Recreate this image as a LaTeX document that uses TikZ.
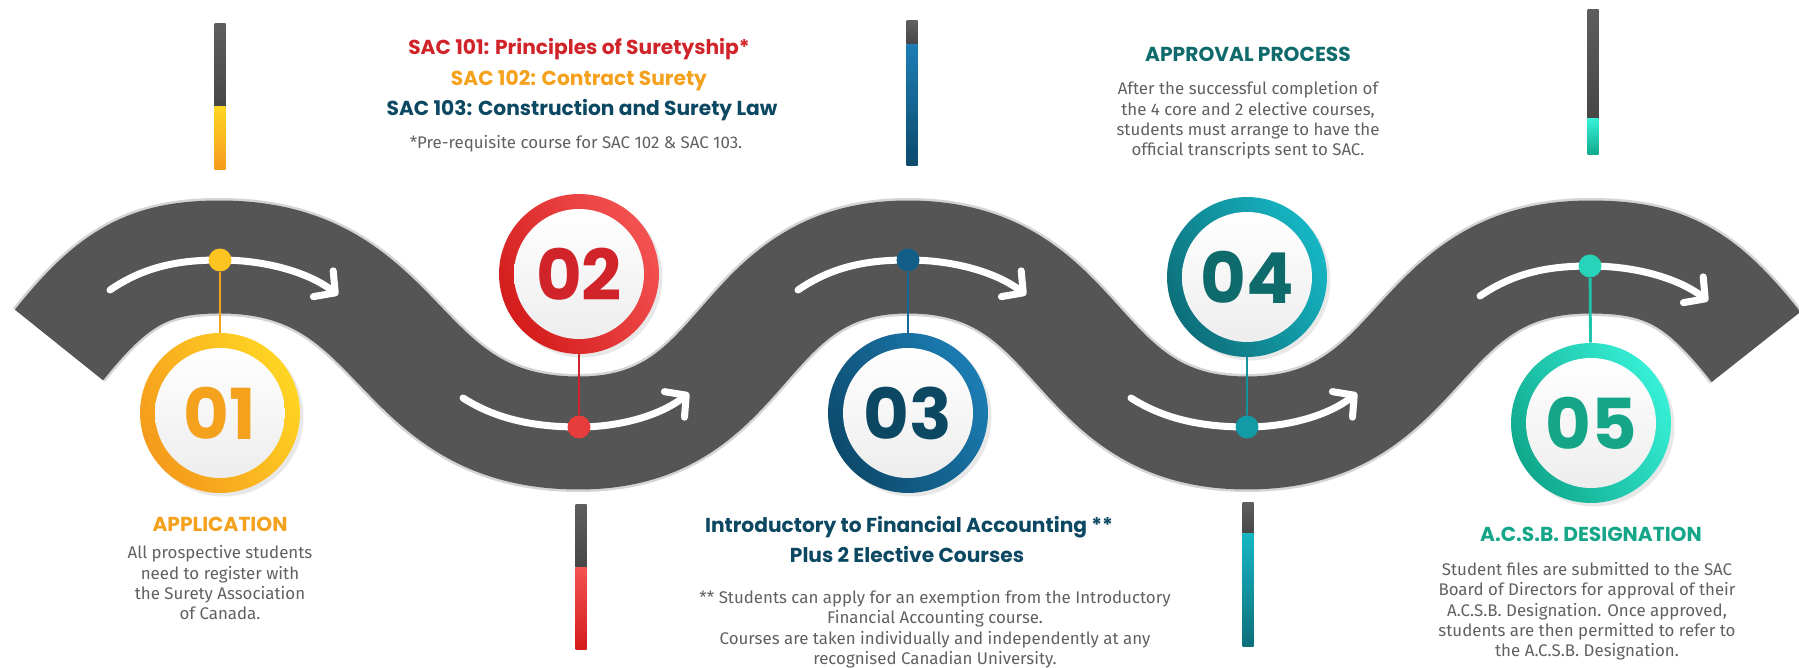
\documentclass[tikz,border=0pt]{standalone}
\usepackage{fontspec}
\setmainfont{Fira Sans}
\newfontfamily\headfont{Poppins}
\usepackage{tikz}
\usetikzlibrary{positioning}
\usetikzlibrary{arrows.meta}
\usetikzlibrary{shadows}

\definecolor{RoadGray}{HTML}{555555}
\definecolor{RoadEdge}{HTML}{D4D4D4}
\definecolor{TextGray}{HTML}{606060}
\definecolor{BarTop}{HTML}{5E5E5E}
\definecolor{BarGray}{HTML}{464646}
\definecolor{YelA}{HTML}{FFD523}
\definecolor{YelB}{HTML}{F59A1C}
\definecolor{RedA}{HTML}{F45252}
\definecolor{RedB}{HTML}{D41C1C}
\definecolor{BluA}{HTML}{1C7DB4}
\definecolor{BluB}{HTML}{0C4A6C}
\definecolor{TeaA}{HTML}{16B6C4}
\definecolor{TeaB}{HTML}{0D6F7A}
\definecolor{TurA}{HTML}{36F0D6}
\definecolor{TurB}{HTML}{10A88D}
\definecolor{AppOrange}{HTML}{F4A11E}
\definecolor{SacRed}{HTML}{D0242A}
\definecolor{SacBlue}{HTML}{0C4862}
\definecolor{AppTeal}{HTML}{0F6A6C}
\definecolor{DesTurq}{HTML}{15A68A}

\tikzset{
	road/.style={ % asfalt med lys kant
			draw=RoadGray,
			line width=2.26cm,
			preaction={draw=RoadEdge, line width=2.36cm}
		},
	roadarrow/.style={
			draw=white,
			line width=4pt,
			line cap=round,
			-{Straight Barb[length=3mm, width=6.5mm, round]}
		},
	ring/.style 2 args={
			circle, minimum size=3.2cm, inner sep=0pt,
			top color=#1, bottom color=#2, shading angle=-60,
			drop shadow={opacity=0.18, shadow xshift=2pt, shadow yshift=-2pt}
		},
	disc/.style={
			circle, minimum size=2.6cm, inner sep=0pt,
			top color=white, bottom color=gray!14,
			font=\headfont\bfseries\fontsize{40}{40}\selectfont
		},
	knob/.style={circle, minimum size=0.46cm, inner sep=0pt},
	stem/.style={line width=1.6pt},
	head/.style={font=\headfont\bfseries\fontsize{11.5}{17}\selectfont, inner sep=0pt, anchor=base},
	body/.style={font=\fontsize{9.6}{11.55}\selectfont, text=TextGray, align=center, inner sep=0pt, anchor=north}
}

\begin{document}
\begin{tikzpicture}[x=0.02cm, y=-0.02cm]
	\useasboundingbox (0,0) rectangle (1799,668);

	% Road
	\draw[road] (59,345) .. controls (114,276) and (150,257) .. (220,257)
		.. controls (410,257) and (389,433) .. (579,433)
		.. controls (754,433) and (733,257) .. (908,257)
		.. controls (1088,257) and (1067,433) .. (1247,433)
		.. controls (1429,433) and (1408,257) .. (1590,257)
		.. controls (1665,257) and (1701,277) .. (1756,347);

	% Arrows on the road
	\foreach \px/\py in {220/260, 908/260, 1590/266} {
		\draw[roadarrow] ({\px-110},{\py+30}) .. controls ({\px-75},{\py+6}) and ({\px-40},{\py}) .. (\px,\py)
			.. controls ({\px+45},{\py}) and ({\px+88},{\py+12}) .. ({\px+118},{\py+35});
	}
	\foreach \px/\py in {579/427, 1247/427} {
		\draw[roadarrow] ({\px-116},{\py-29}) .. controls ({\px-80},{\py-6}) and ({\px-40},{\py}) .. (\px,\py)
			.. controls ({\px+42},{\py}) and ({\px+82},{\py-12}) .. ({\px+110},{\py-34});
	}

	% Bars
	\foreach \bx/\ba/\bb/\bc/\cola/\colb in {220/24/107/170/YelA/YelB, 912/21/45/166/BluA/BluB,
			581/505/568/649/RedA/RedB, 1248/503/534/647/TeaA/TeaB, 1593/10/119/155/TurA/TurB} {
		\shade[top color=BarTop, bottom color=BarGray] ({\bx-5.5},\ba) rectangle ({\bx+5.5},\bb);
		\shade[top color=\cola, bottom color=\colb] ({\bx-5.5},\bb) rectangle ({\bx+5.5},\bc);
	}

	% Steps
	\node[ring={YelA}{YelB}] (r1) at (220,413) {};
	\node[disc, text=AppOrange] (c1) at (r1) {01};
	\node[knob, fill=YelA!70!YelB] (d1) at (220,260) {};
	\draw[stem, AppOrange] (d1) -- (r1);

	\node[ring={RedA}{RedB}] (r2) at (579,274) {};
	\node[disc, text=SacRed] (c2) at (r2) {02};
	\node[knob, fill=RedA!60!RedB] (d2) at (579,427) {};
	\draw[stem, SacRed] (r2) -- (d2);

	\node[ring={BluA}{BluB}] (r3) at (908,413) {};
	\node[disc, text=SacBlue] (c3) at (r3) {03};
	\node[knob, fill=BluA!40!BluB] (d3) at (908,260) {};
	\draw[stem, BluA!60!BluB] (d3) -- (r3);

	\node[ring={TeaA}{TeaB}] (r4) at (1247,277) {};
	\node[disc, text=AppTeal] (c4) at (r4) {04};
	\node[knob, fill=TeaA!60!TeaB] (d4) at (1247,427) {};
	\draw[stem, TeaA!50!TeaB] (r4) -- (d4);

	\node[ring={TurA}{TurB}] (r5) at (1591,423) {};
	\node[disc, text=DesTurq] (c5) at (r5) {05};
	\node[knob, fill=TurA!60!TurB] (d5) at (1590,266) {};
	\draw[stem, TurA!40!TurB] (d5) -- (r5);

	% Texts
	\node[head, text=AppOrange] (app) at (220,532) {APPLICATION};
	\node[body, below=0.26cm of app] (appbody) {All prospective students\\need to register with\\the Surety Association\\of Canada.};

	\node[head, text=SacRed] (sac101) at (579,55) {SAC 101: Principles of Suretyship*};
	\node[head, text=AppOrange] (sac102) at (579,86) {SAC 102: Contract Surety};
	\node[head, text=SacBlue] (sac103) at (582,116) {SAC 103: Construction and Surety Law};
	\node[body] (prereq) at (576,135) {*Pre-requisite course for SAC 102 \& SAC 103.};

	\node[head, text=SacBlue] (intro) at (909,533) {Introductory to Financial Accounting **};
	\node[head, text=SacBlue] (plus) at (907,563) {Plus 2 Elective Courses};
	\node[body] (introbody) at (935,590) {** Students can apply for an exemption from the Introductory\\Financial Accounting course.\\Courses are taken individually and independently at any\\recognised Canadian University.};

	\node[head, text=AppTeal] (approval) at (1248,62) {APPROVAL PROCESS};
	\node[body, below=0.38cm of approval] (approvalbody) {After the successful completion of\\the 4 core and 2 elective courses,\\students must arrange to have the\\official transcripts sent to SAC.};

	\node[head, text=DesTurq] (acsb) at (1591,542) {A.C.S.B. DESIGNATION};
	\node[body] (acsbbody) at (1587,562) {Student files are submitted to the SAC\\Board of Directors for approval of their\\A.C.S.B. Designation. Once approved,\\students are then permitted to refer to\\the A.C.S.B. Designation.};

\end{tikzpicture}
\end{document}
